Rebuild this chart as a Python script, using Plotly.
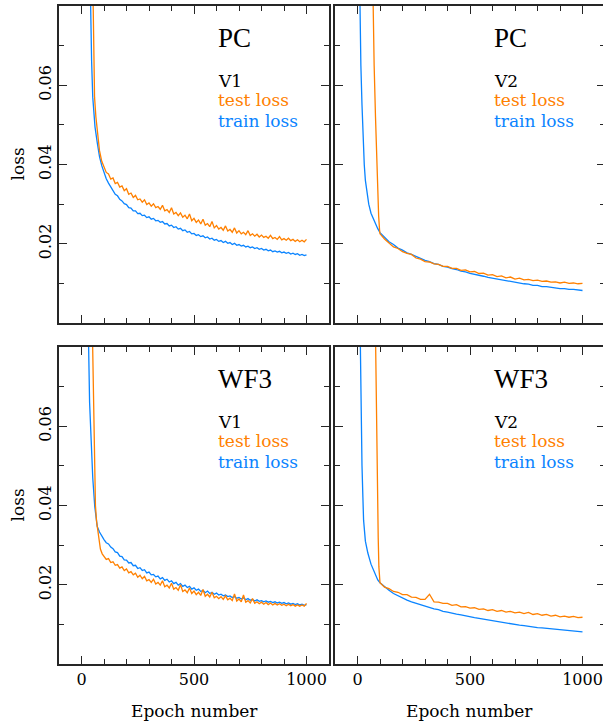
import plotly.graph_objects as go

# ---------------- data ----------------
EPOCHS_10 = list(range(100, 1001, 10))   # denser sampling for the noisy curves
EPOCHS_20 = list(range(100, 1001, 20))

# Panel 1: PC, V1
PC_V1_TRAIN_EARLY_X = [36, 40, 45, 50, 55, 60, 70, 80, 90]
PC_V1_TRAIN_EARLY_Y = [0.095, 0.080, 0.066, 0.057, 0.052, 0.0495, 0.0455, 0.042, 0.0397]
PC_V1_TEST_EARLY_X = [48, 52, 55, 58, 64, 70, 80, 90]
PC_V1_TEST_EARLY_Y = [0.095, 0.080, 0.066, 0.057, 0.052, 0.048, 0.0435, 0.0408]
PC_V1_TRAIN = [0.0379, 0.0364, 0.0353, 0.0343, 0.0334, 0.0325, 0.0321, 0.0312, 0.0308, 0.0301,
               0.0299, 0.0291, 0.0290, 0.0283, 0.0283, 0.0276, 0.0277, 0.0271, 0.0272, 0.0266,
               0.0268, 0.0262, 0.0264, 0.0258, 0.0259, 0.0254, 0.0256, 0.0250, 0.0251, 0.0245,
               0.0247, 0.0241, 0.0243, 0.0237, 0.0239, 0.0233, 0.0235, 0.0229, 0.0231, 0.0225,
               0.0226, 0.0221, 0.0223, 0.0218, 0.0220, 0.0215, 0.0217, 0.0212, 0.0214, 0.0209,
               0.0211, 0.0206, 0.0208, 0.0203, 0.0206, 0.0201, 0.0203, 0.0198, 0.0201, 0.0196,
               0.0198, 0.0194, 0.0196, 0.0192, 0.0194, 0.0190, 0.0192, 0.0188, 0.0190, 0.0186,
               0.0188, 0.0184, 0.0186, 0.0182, 0.0184, 0.0180, 0.0182, 0.0179, 0.0181, 0.0177,
               0.0179, 0.0176, 0.0178, 0.0174, 0.0176, 0.0173, 0.0175, 0.0171, 0.0173, 0.0170,
               0.0172]
PC_V1_TEST = [0.0394, 0.0380, 0.0376, 0.0363, 0.0366, 0.0352, 0.0355, 0.0343, 0.0346, 0.0334,
              0.0339, 0.0325, 0.0328, 0.0317, 0.0322, 0.0311, 0.0313, 0.0305, 0.0311, 0.0299,
              0.0303, 0.0295, 0.0301, 0.0291, 0.0294, 0.0287, 0.0297, 0.0283, 0.0286, 0.0279,
              0.0291, 0.0275, 0.0279, 0.0271, 0.0278, 0.0267, 0.0272, 0.0263, 0.0275, 0.0258,
              0.0264, 0.0254, 0.0260, 0.0250, 0.0262, 0.0247, 0.0251, 0.0243, 0.0256, 0.0240,
              0.0246, 0.0237, 0.0241, 0.0234, 0.0245, 0.0232, 0.0236, 0.0229, 0.0240, 0.0227,
              0.0233, 0.0225, 0.0229, 0.0223, 0.0233, 0.0221, 0.0225, 0.0219, 0.0224, 0.0217,
              0.0222, 0.0216, 0.0219, 0.0214, 0.0221, 0.0213, 0.0216, 0.0211, 0.0218, 0.0210,
              0.0213, 0.0209, 0.0214, 0.0208, 0.0211, 0.0206, 0.0210, 0.0205, 0.0209, 0.0205,
              0.0211]

# Panel 2: PC, V2
PC_V2_TRAIN_EARLY_X = [6, 10, 15, 20, 25, 30, 35, 42, 50, 60, 75, 90]
PC_V2_TRAIN_EARLY_Y = [0.10, 0.080, 0.065, 0.055, 0.046, 0.040, 0.036, 0.033, 0.030, 0.0277, 0.0255, 0.0238]
PC_V2_TEST_EARLY_X = [64, 68, 74, 80, 86, 90, 94, 98]
PC_V2_TEST_EARLY_Y = [0.10, 0.080, 0.065, 0.052, 0.040, 0.032, 0.027, 0.0235]
PC_V2_TRAIN = [0.0228, 0.0216, 0.0205, 0.0198, 0.0189, 0.0184, 0.0177, 0.0173, 0.0167, 0.0163,
               0.0158, 0.0155, 0.0150, 0.0148, 0.0143, 0.0141, 0.0137, 0.0135, 0.0131, 0.0129,
               0.0125, 0.0123, 0.0120, 0.0118, 0.0115, 0.0113, 0.0110, 0.0109, 0.0106, 0.0105,
               0.0102, 0.0101, 0.0099, 0.0098, 0.0095, 0.0095, 0.0092, 0.0092, 0.0090, 0.0089,
               0.0087, 0.0087, 0.0085, 0.0085, 0.0083, 0.0082]
PC_V2_TEST = [0.0225, 0.0212, 0.0203, 0.0192, 0.0188, 0.0180, 0.0176, 0.0173, 0.0164, 0.0161,
              0.0155, 0.0154, 0.0149, 0.0148, 0.0143, 0.0143, 0.0138, 0.0138, 0.0133, 0.0134,
              0.0129, 0.0130, 0.0125, 0.0126, 0.0121, 0.0122, 0.0117, 0.0119, 0.0114, 0.0116,
              0.0111, 0.0113, 0.0109, 0.0110, 0.0107, 0.0108, 0.0105, 0.0106, 0.0103, 0.0104,
              0.0101, 0.0103, 0.0100, 0.0101, 0.0099, 0.0100]

# Panel 3: WF3, V1
WF3_V1_TRAIN_EARLY_X = [27, 31, 36, 43, 50, 59, 65, 70, 80, 90]
WF3_V1_TRAIN_EARLY_Y = [0.095, 0.080, 0.066, 0.0565, 0.047, 0.0397, 0.036, 0.0347, 0.0333, 0.0322]
WF3_V1_TEST_EARLY_X = [45, 49, 52, 55, 58, 62, 67, 73, 84, 92]
WF3_V1_TEST_EARLY_Y = [0.095, 0.080, 0.066, 0.0565, 0.048, 0.040, 0.036, 0.033, 0.029, 0.0278]
WF3_V1_TRAIN = [0.0314, 0.0306, 0.0303, 0.0295, 0.0291, 0.0283, 0.0281, 0.0272, 0.0271, 0.0263,
                0.0262, 0.0255, 0.0256, 0.0248, 0.0249, 0.0241, 0.0243, 0.0236, 0.0238, 0.0230,
                0.0232, 0.0225, 0.0226, 0.0220, 0.0222, 0.0215, 0.0218, 0.0211, 0.0214, 0.0207,
                0.0210, 0.0203, 0.0206, 0.0199, 0.0203, 0.0196, 0.0199, 0.0193, 0.0196, 0.0189,
                0.0192, 0.0186, 0.0189, 0.0183, 0.0186, 0.0180, 0.0184, 0.0178, 0.0181, 0.0176,
                0.0179, 0.0174, 0.0176, 0.0172, 0.0174, 0.0170, 0.0172, 0.0168, 0.0170, 0.0166,
                0.0168, 0.0164, 0.0167, 0.0162, 0.0165, 0.0161, 0.0163, 0.0159, 0.0162, 0.0158,
                0.0160, 0.0157, 0.0159, 0.0156, 0.0158, 0.0155, 0.0157, 0.0154, 0.0156, 0.0153,
                0.0155, 0.0152, 0.0154, 0.0151, 0.0153, 0.0150, 0.0152, 0.0149, 0.0151, 0.0148,
                0.0150]
WF3_V1_TEST = [0.0272, 0.0264, 0.0266, 0.0256, 0.0258, 0.0249, 0.0251, 0.0242, 0.0245, 0.0236,
               0.0240, 0.0230, 0.0233, 0.0225, 0.0229, 0.0219, 0.0224, 0.0215, 0.0221, 0.0210,
               0.0213, 0.0206, 0.0214, 0.0202, 0.0206, 0.0199, 0.0210, 0.0195, 0.0199, 0.0192,
               0.0204, 0.0189, 0.0193, 0.0186, 0.0200, 0.0183, 0.0187, 0.0180, 0.0192, 0.0178,
               0.0184, 0.0175, 0.0181, 0.0173, 0.0188, 0.0171, 0.0176, 0.0169, 0.0181, 0.0167,
               0.0171, 0.0165, 0.0170, 0.0163, 0.0172, 0.0162, 0.0166, 0.0160, 0.0177, 0.0159,
               0.0164, 0.0157, 0.0174, 0.0156, 0.0160, 0.0154, 0.0165, 0.0153, 0.0157, 0.0152,
               0.0156, 0.0151, 0.0155, 0.0150, 0.0154, 0.0149, 0.0153, 0.0149, 0.0152, 0.0148,
               0.0151, 0.0147, 0.0151, 0.0147, 0.0150, 0.0146, 0.0149, 0.0146, 0.0149, 0.0146,
               0.0153]

# Panel 4: WF3, V2
WF3_V2_TRAIN_EARLY_X = [8, 12, 16, 20, 24, 27, 35, 46, 60, 76, 90]
WF3_V2_TRAIN_EARLY_Y = [0.10, 0.080, 0.062, 0.050, 0.042, 0.0363, 0.031, 0.028, 0.0252, 0.023, 0.0212]
WF3_V2_TEST_EARLY_X = [76, 80, 84, 88, 92, 95, 98]
WF3_V2_TEST_EARLY_Y = [0.10, 0.080, 0.060, 0.045, 0.032, 0.0245, 0.0215]
WF3_V2_TRAIN = [0.0205, 0.0195, 0.0186, 0.0178, 0.0172, 0.0166, 0.0161, 0.0157, 0.0153, 0.0149,
                0.0146, 0.0143, 0.0139, 0.0137, 0.0133, 0.0131, 0.0128, 0.0126, 0.0124, 0.0121,
                0.0119, 0.0117, 0.0115, 0.0113, 0.0111, 0.0109, 0.0107, 0.0105, 0.0103, 0.0102,
                0.0100, 0.0098, 0.0097, 0.0095, 0.0094, 0.0092, 0.0091, 0.0090, 0.0088, 0.0087,
                0.0086, 0.0085, 0.0084, 0.0083, 0.0082, 0.0081]
WF3_V2_TEST = [0.0205, 0.0194, 0.0190, 0.0183, 0.0181, 0.0175, 0.0175, 0.0169, 0.0168, 0.0163,
               0.0163, 0.0176, 0.0157, 0.0156, 0.0153, 0.0153, 0.0148, 0.0150, 0.0144, 0.0145,
               0.0141, 0.0142, 0.0138, 0.0139, 0.0135, 0.0137, 0.0133, 0.0135, 0.0131, 0.0133,
               0.0129, 0.0131, 0.0127, 0.0130, 0.0125, 0.0127, 0.0123, 0.0125, 0.0121, 0.0123,
               0.0119, 0.0121, 0.0118, 0.0120, 0.0117, 0.0118]

PANELS = [
    ("PC", "V1", PC_V1_TRAIN_EARLY_X, PC_V1_TRAIN_EARLY_Y, EPOCHS_10, PC_V1_TRAIN,
     PC_V1_TEST_EARLY_X, PC_V1_TEST_EARLY_Y, EPOCHS_10, PC_V1_TEST),
    ("PC", "V2", PC_V2_TRAIN_EARLY_X, PC_V2_TRAIN_EARLY_Y, EPOCHS_20, PC_V2_TRAIN,
     PC_V2_TEST_EARLY_X, PC_V2_TEST_EARLY_Y, EPOCHS_20, PC_V2_TEST),
    ("WF3", "V1", WF3_V1_TRAIN_EARLY_X, WF3_V1_TRAIN_EARLY_Y, EPOCHS_10, WF3_V1_TRAIN,
     WF3_V1_TEST_EARLY_X, WF3_V1_TEST_EARLY_Y, EPOCHS_10, WF3_V1_TEST),
    ("WF3", "V2", WF3_V2_TRAIN_EARLY_X, WF3_V2_TRAIN_EARLY_Y, EPOCHS_20, WF3_V2_TRAIN,
     WF3_V2_TEST_EARLY_X, WF3_V2_TEST_EARLY_Y, EPOCHS_20, WF3_V2_TEST),
]

X_TICKS = [0, 500, 1000]
Y_TICKS = [0.02, 0.04, 0.06]
Y_TICK_TEXT = ["0.02", "0.04", "0.06"]

# ---------------- styling ----------------
W, H = 606, 722
ORANGE = "#ff8000"
BLUE = "#0a84ff"
AXC = "#262626"
SERIF = "DejaVu Serif"
TITLE_FONT = "Liberation Serif"

# pixel boxes of the four panels (left, right, top, bottom)
BOXES = [(59, 329, 6, 323), (335, 605, 6, 323), (59, 329, 347, 664), (335, 605, 347, 664)]

fig = go.Figure()
layout = dict(width=W, height=H, margin=dict(l=0, r=0, t=0, b=0),
              paper_bgcolor="white", plot_bgcolor="white", showlegend=False)
annotations = []

for i, (name, ver, trx, tr_y, tr_ep, tr_tail, tex, te_y, te_ep, te_tail) in enumerate(PANELS):
    n = i + 1
    xa = "x" if n == 1 else f"x{n}"
    ya = "y" if n == 1 else f"y{n}"
    l, r, t, b = BOXES[i]
    fig.add_trace(go.Scatter(x=trx + tr_ep, y=tr_y + tr_tail, mode="lines",
                             line=dict(color=BLUE, width=1.3), xaxis=xa, yaxis=ya))
    fig.add_trace(go.Scatter(x=tex + te_ep, y=te_y + te_tail, mode="lines",
                             line=dict(color=ORANGE, width=1.3), xaxis=xa, yaxis=ya))
    bottom_row = n >= 3
    left_col = n in (1, 3)
    layout["xaxis" if n == 1 else f"xaxis{n}"] = dict(
        domain=[l / W, r / W], anchor=ya, range=[-100, 1100],
        tickmode="array", tickvals=X_TICKS, ticks="inside", ticklen=8, tickwidth=1.2,
        tickcolor=AXC, showline=True, linecolor=AXC, linewidth=1.5, mirror="allticks",
        showgrid=False, zeroline=False, showticklabels=bottom_row,
        tickfont=dict(family=SERIF, size=16, color="black"),
        minor=dict(tickmode="linear", tick0=0, dtick=100, ticks="inside", ticklen=5,
                   tickwidth=1.2, tickcolor=AXC, showgrid=False),
    )
    layout["yaxis" if n == 1 else f"yaxis{n}"] = dict(
        domain=[1 - b / H, 1 - t / H], anchor=xa, range=[0, 0.08],
        tickmode="array", tickvals=Y_TICKS, ticktext=Y_TICK_TEXT, tickangle=-90,
        ticks="inside", ticklen=8, tickwidth=1.2, tickcolor=AXC,
        showline=True, linecolor=AXC, linewidth=1.5, mirror="allticks",
        showgrid=False, zeroline=False, showticklabels=left_col,
        tickfont=dict(family=SERIF, size=16, color="black"),
        minor=dict(tickmode="linear", tick0=0, dtick=0.01, ticks="inside", ticklen=5,
                   tickwidth=1.2, tickcolor=AXC, showgrid=False),
    )
    ph = b - t
    xr = f"{xa} domain"
    yr = f"{ya} domain"
    ax0 = 0.583
    annotations += [
        dict(text=name, x=ax0, y=1 - 32 / ph, xref=xr, yref=yr, xanchor="left", yanchor="middle",
             showarrow=False, font=dict(family=TITLE_FONT, size=27, color="black")),
        dict(text=ver, x=ax0, y=1 - 74.5 / ph, xref=xr, yref=yr, xanchor="left", yanchor="middle",
             showarrow=False, font=dict(family=SERIF, size=17, color="black")),
        dict(text="test loss", x=ax0, y=1 - 94 / ph, xref=xr, yref=yr, xanchor="left",
             yanchor="middle", showarrow=False, font=dict(family=SERIF, size=17, color=ORANGE)),
        dict(text="train loss", x=ax0, y=1 - 115 / ph, xref=xr, yref=yr, xanchor="left",
             yanchor="middle", showarrow=False, font=dict(family=SERIF, size=17, color=BLUE)),
    ]
    if left_col:
        annotations.append(dict(text="loss", x=17 / W, y=1 - (t + b) / 2 / H, xref="paper",
                                yref="paper", textangle=-90, showarrow=False,
                                xanchor="center", yanchor="middle",
                                font=dict(family=SERIF, size=17, color="black")))
    if bottom_row:
        annotations.append(dict(text="Epoch number", x=(l + r) / 2 / W, y=1 - 711 / H,
                                xref="paper", yref="paper", showarrow=False,
                                xanchor="center", yanchor="middle",
                                font=dict(family=SERIF, size=17, color="black")))

layout["annotations"] = annotations
fig.update_layout(**layout)
fig.write_html("out.html",
               post_script="document.documentElement.style.overflow='hidden';"
                           "document.body.style.overflow='hidden';")
